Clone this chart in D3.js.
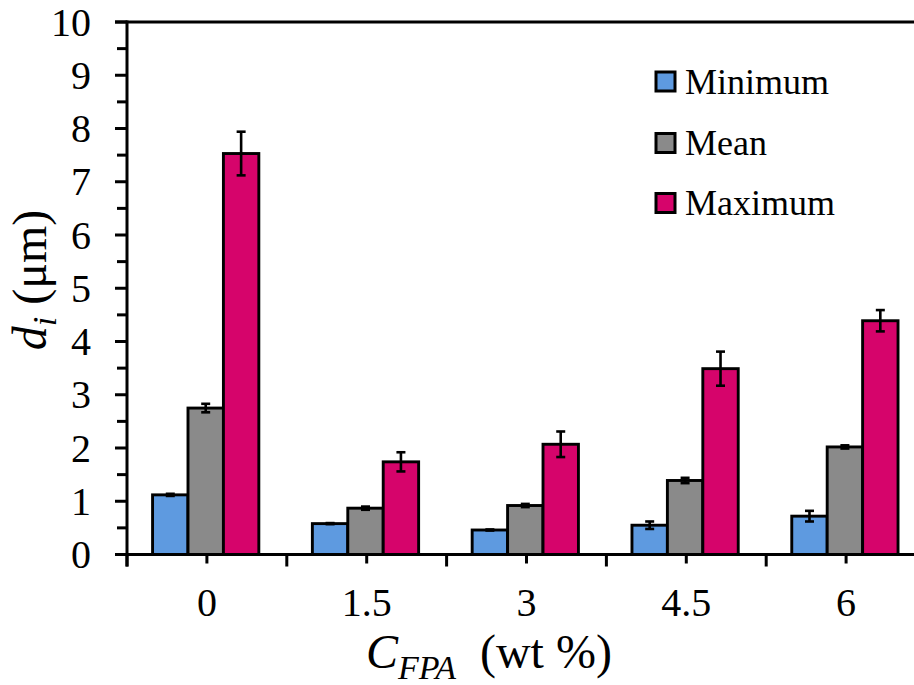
<!DOCTYPE html>
<html>
<head>
<meta charset="utf-8">
<script src="https://cdn.jsdelivr.net/npm/d3@7"></script>
<style>
  html, body { margin: 0; padding: 0; background: #fff; }
  svg { display: block; }
  text { font-family: "Liberation Serif", "Times New Roman", serif; fill: #000; }
</style>
</head>
<body>
<script>
// Interfacial droplet size d_i (µm) versus FPA concentration
const categories = ["0", "1.5", "3", "4.5", "6"];
const seriesNames = ["Minimum", "Mean", "Maximum"];
const minimumVals = [1.12, 0.58, 0.46, 0.55, 0.72];
const minimumErr  = [0.02, 0.01, 0.01, 0.07, 0.10];
const meanVals    = [2.75, 0.87, 0.92, 1.39, 2.02];
const meanErr     = [0.08, 0.03, 0.03, 0.05, 0.03];
const maximumVals = [7.53, 1.74, 2.07, 3.49, 4.39];
const maximumErr  = [0.41, 0.18, 0.24, 0.32, 0.20];
const yTicks = [0, 1, 2, 3, 4, 5, 6, 7, 8, 9, 10];
const colors = ["#5e9ae0", "#8a8a8a", "#d6046b"];

const W = 914, H = 685;
const margin = { left: 127, top: 22 };
const plotRight = 926;
const y0px = 554.5;

const svg = d3.select("body").append("svg").attr("width", W).attr("height", H);

const x = d3.scaleBand().domain(categories).range([margin.left, plotRight]);
const bw = x.bandwidth();
const xs = d3.scaleBand().domain(seriesNames).range([bw * 0.16, bw * 0.825]);
const y = d3.scaleLinear().domain([0, 10]).range([y0px, margin.top]);

const series = [
  { name: "Minimum", vals: minimumVals, err: minimumErr },
  { name: "Mean", vals: meanVals, err: meanErr },
  { name: "Maximum", vals: maximumVals, err: maximumErr }
];

// top border line at y = 10
svg.append("line")
  .attr("x1", margin.left - 12).attr("x2", W)
  .attr("y1", y(10)).attr("y2", y(10))
  .attr("stroke", "#000").attr("stroke-width", 3);

// bars
series.forEach((s, si) => {
  svg.append("g").selectAll("rect").data(categories).join("rect")
    .attr("x", c => x(c) + xs(s.name))
    .attr("y", (c, i) => y(s.vals[i]))
    .attr("width", xs.bandwidth())
    .attr("height", (c, i) => y(0) - y(s.vals[i]))
    .attr("fill", colors[si])
    .attr("stroke", "#000")
    .attr("stroke-width", 2.9);
});

// error bars
series.forEach((s, si) => {
  const g = svg.append("g").attr("stroke", "#000").attr("stroke-width", 2.6);
  categories.forEach((c, i) => {
    const cx = x(c) + xs(s.name) + xs.bandwidth() / 2;
    const hi = y(s.vals[i] + s.err[i]), lo = y(s.vals[i] - s.err[i]);
    g.append("line").attr("x1", cx).attr("x2", cx).attr("y1", hi).attr("y2", lo);
    g.append("line").attr("x1", cx - 4.5).attr("x2", cx + 4.5).attr("y1", hi).attr("y2", hi);
    g.append("line").attr("x1", cx - 4.5).attr("x2", cx + 4.5).attr("y1", lo).attr("y2", lo);
  });
});

// y axis
const yAxis = svg.append("g");
yAxis.append("line")
  .attr("x1", margin.left).attr("x2", margin.left)
  .attr("y1", y(10) - 1.5).attr("y2", y(0) + 12)
  .attr("stroke", "#000").attr("stroke-width", 3);
const minorTicks = d3.range(0.5, 10, 1);
yAxis.selectAll(".minor").data(minorTicks).join("line")
  .attr("x1", margin.left - 10).attr("x2", margin.left)
  .attr("y1", d => y(d)).attr("y2", d => y(d))
  .attr("stroke", "#000").attr("stroke-width", 3);
yAxis.selectAll(".major").data(yTicks).join("line")
  .attr("x1", margin.left - 12).attr("x2", margin.left)
  .attr("y1", d => y(d)).attr("y2", d => y(d))
  .attr("stroke", "#000").attr("stroke-width", 3);
yAxis.selectAll("text").data(yTicks).join("text")
  .attr("x", 91).attr("y", d => y(d) + 13.5)
  .attr("text-anchor", "end")
  .attr("font-size", 40)
  .text(d => d);

// x axis
const xAxis = svg.append("g");
xAxis.append("line")
  .attr("x1", margin.left - 12).attr("x2", W)
  .attr("y1", y(0)).attr("y2", y(0))
  .attr("stroke", "#000").attr("stroke-width", 3);
xAxis.selectAll(".bound").data(categories).join("line")
  .attr("x1", c => x(c)).attr("x2", c => x(c))
  .attr("y1", y(0)).attr("y2", y(0) + 12)
  .attr("stroke", "#000").attr("stroke-width", 3);
xAxis.selectAll(".center").data(categories).join("line")
  .attr("x1", c => x(c) + bw / 2).attr("x2", c => x(c) + bw / 2)
  .attr("y1", y(0)).attr("y2", y(0) + 9)
  .attr("stroke", "#000").attr("stroke-width", 3);
xAxis.selectAll("text").data(categories).join("text")
  .attr("x", c => x(c) + bw / 2).attr("y", 616)
  .attr("text-anchor", "middle")
  .attr("font-size", 40)
  .text(c => c);

// x axis title
const xt = svg.append("text")
  .attr("x", 366).attr("y", 668)
  .attr("font-size", 48);
xt.append("tspan").attr("font-style", "italic").text("C");
xt.append("tspan").attr("font-style", "italic").attr("font-size", 34)
  .attr("dy", 11).text("FPA");
xt.append("tspan").attr("dy", -11).attr("dx", 24).text("(wt %)");

// y axis title
const yt = svg.append("text")
  .attr("transform", "translate(46,280) rotate(-90)")
  .attr("text-anchor", "middle")
  .attr("font-size", 48);
yt.append("tspan").attr("font-style", "italic").text("d");
yt.append("tspan").attr("font-style", "italic").attr("font-size", 34)
  .attr("dy", 10).text("i");
yt.append("tspan").attr("dy", -10).text(" (μm)");

// legend
const legend = svg.append("g");
const legY = [81.5, 143, 203];
seriesNames.forEach((n, i) => {
  legend.append("rect")
    .attr("x", 656).attr("y", legY[i] - 9.5)
    .attr("width", 19).attr("height", 19)
    .attr("fill", colors[i]).attr("stroke", "#000").attr("stroke-width", 3);
  legend.append("text")
    .attr("x", 685).attr("y", legY[i] + 12)
    .attr("font-size", 36)
    .text(n);
});
</script>
</body>
</html>
